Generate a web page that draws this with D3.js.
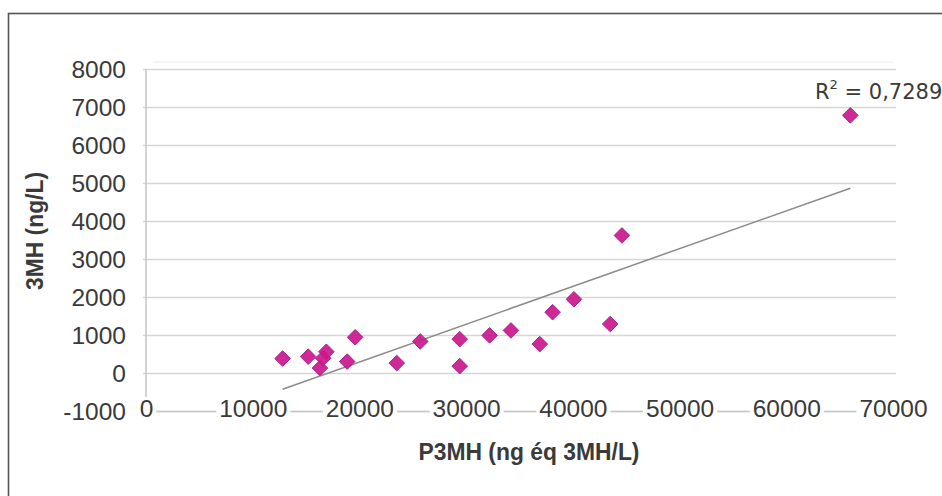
<!DOCTYPE html>
<html>
<head>
<meta charset="utf-8">
<script src="https://cdn.jsdelivr.net/npm/d3@7"></script>
<style>
  html, body { margin: 0; padding: 0; background: #fff; }
  svg { display: block; }
</style>
</head>
<body>
<svg id="chart" width="942" height="496"></svg>
<script>
// ---- data ----
const p3mh = [12800, 15200, 16300, 16600, 16900, 18850, 19600, 23500, 25700, 29400, 29400, 32200, 34200, 36900, 38100, 40100, 43500, 44600, 66000];
const mh3  = [380, 430, 130, 390, 560, 300, 940, 260, 830, 890, 180, 990, 1120, 760, 1600, 1940, 1290, 3620, 6780];
const xTicks = [0, 10000, 20000, 30000, 40000, 50000, 60000, 70000];
const yTicks = [-1000, 0, 1000, 2000, 3000, 4000, 5000, 6000, 7000, 8000];
const xTitle = "P3MH (ng éq 3MH/L)";
const yTitle = "3MH (ng/L)";
const r2Value = "0,7289";

const svg = d3.select("#chart");
const W = 942, H = 496;
svg.append("rect").attr("width", W).attr("height", H).attr("fill", "#fff");

// outer frame (clipped on right/bottom like the reference)
svg.append("rect")
  .attr("x", 8.5).attr("y", 13.5).attr("width", 1100).attr("height", 700)
  .attr("fill", "none").attr("stroke", "#555").attr("stroke-width", 1.6);

const x = d3.scaleLinear().domain([0, 70000]).range([146, 893]);
const y = d3.scaleLinear().domain([-1000, 8000]).range([411, 69]);

const font = "'Liberation Sans', Arial, sans-serif";
const fmt = d => String(d);

// faint plot-area edge
svg.append("line").attr("x1", 153).attr("x2", 893).attr("y1", 62).attr("y2", 62)
  .attr("stroke", "#f0f0f0").attr("stroke-width", 1.5);

// gridlines
const grid = svg.append("g").attr("transform", `translate(${x(0)},0)`)
  .call(d3.axisLeft(y).tickValues(yTicks).tickSize(-(x(70000) - x(0)) - 3).tickFormat(""));
grid.select(".domain").remove();
grid.selectAll(".tick line")
  .attr("x1", -3)
  .attr("stroke", "#d6d6d6").attr("stroke-width", 1.5);

// y axis line
svg.append("line").attr("x1", x(0)).attr("x2", x(0)).attr("y1", y(8000)).attr("y2", y(-1000))
  .attr("stroke", "#c4c4c4").attr("stroke-width", 1.5);

// y tick labels
const yAxis = svg.append("g").attr("transform", `translate(${x(0)},0)`)
  .call(d3.axisLeft(y).tickValues(yTicks).tickSize(0).tickPadding(20).tickFormat(fmt));
yAxis.select(".domain").remove();
yAxis.selectAll("text")
  .attr("font-family", font).attr("font-size", 24.5).attr("fill", "#3a3a3a")
  .attr("dy", "0.35em");

// x axis (labels sit on the -1000 line)
const xAxis = svg.append("g").attr("transform", `translate(0,${y(-1000)})`)
  .call(d3.axisBottom(x).tickValues(xTicks).tickSize(0).tickPadding(0).tickFormat(fmt));
xAxis.select(".domain")
  .attr("stroke", "#c8c8c8").attr("stroke-width", 1.5);
xAxis.selectAll("text")
  .attr("font-family", font).attr("font-size", 24.5).attr("fill", "#3a3a3a")
  .attr("y", 6).attr("dy", 0);
xAxis.selectAll(".tick").each(function() {
  const t = d3.select(this).select("text");
  const bb = t.node().getBBox();
  d3.select(this).insert("rect", "text")
    .attr("x", bb.x - 3).attr("y", bb.y + 2).attr("width", bb.width + 6).attr("height", bb.height - 4)
    .attr("fill", "#fff");
});

// trend line (least squares from the data)
const mx = d3.mean(p3mh), my = d3.mean(mh3);
let sxy = 0, sxx = 0;
p3mh.forEach((v, i) => { sxy += (v - mx) * (mh3[i] - my); sxx += (v - mx) * (v - mx); });
const slope = sxy / sxx, icpt = my - slope * mx;
const xr = d3.extent(p3mh);
svg.append("line")
  .attr("x1", x(xr[0])).attr("y1", y(icpt + slope * xr[0]))
  .attr("x2", x(xr[1])).attr("y2", y(icpt + slope * xr[1]))
  .attr("stroke", "#8f8a86").attr("stroke-width", 1.5);

// markers
const r = 7.8;
svg.append("g").selectAll("path")
  .data(p3mh.map((v, i) => [v, mh3[i]]))
  .join("path")
  .attr("d", d => {
    const cx = x(d[0]), cy = y(d[1]);
    return `M${cx},${cy - r}L${cx + r},${cy}L${cx},${cy + r}L${cx - r},${cy}Z`;
  })
  .attr("fill", "#cc178c").attr("fill-opacity", 0.92)
  .attr("stroke", "#a0288e").attr("stroke-width", 1);

// R² label
const r2 = svg.append("text")
  .attr("x", 815).attr("y", 99)
  .attr("font-family", "'DejaVu Sans', Verdana, sans-serif").attr("font-size", 21).attr("fill", "#3a3a3a");
r2.append("tspan").text("R");
r2.append("tspan").attr("font-size", 13).attr("dy", -10).text("2");
r2.append("tspan").attr("dy", 10).text(" = " + r2Value);

// axis titles
svg.append("text")
  .attr("x", 529).attr("y", 460)
  .attr("text-anchor", "middle")
  .attr("font-family", font).attr("font-weight", "bold").attr("font-size", 23)
  .attr("fill", "#3a3a3a")
  .attr("textLength", 221).attr("lengthAdjust", "spacingAndGlyphs")
  .text(xTitle);

svg.append("text")
  .attr("transform", "translate(43,231) rotate(-90)")
  .attr("text-anchor", "middle")
  .attr("font-family", font).attr("font-weight", "bold").attr("font-size", 23)
  .attr("fill", "#3a3a3a")
  .attr("textLength", 118).attr("lengthAdjust", "spacingAndGlyphs")
  .text(yTitle);
</script>
</body>
</html>
